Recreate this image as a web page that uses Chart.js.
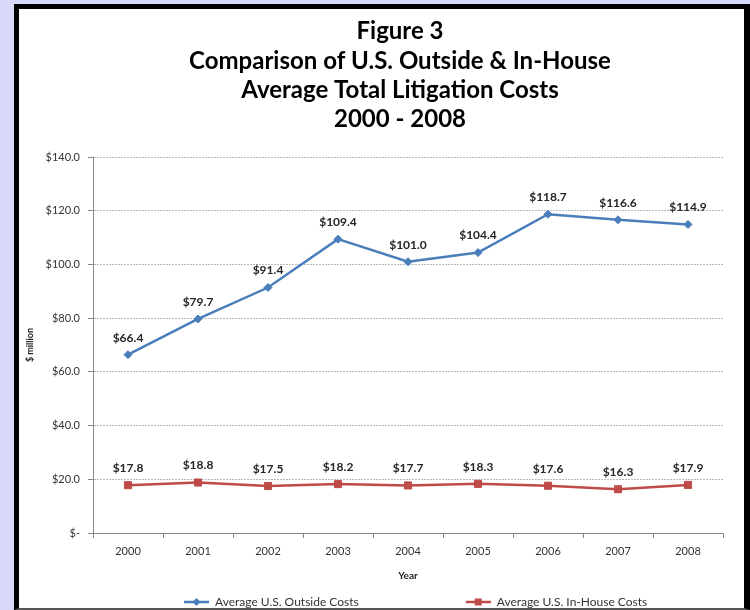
<!DOCTYPE html>
<html><head><meta charset="utf-8">
<script src="https://cdn.jsdelivr.net/npm/chart.js@4.4.1/dist/chart.umd.min.js"></script>
<style>
html,body{margin:0;padding:0;background:#d9d9fc;width:750px;height:610px;overflow:hidden;}
#panel{position:absolute;left:14px;top:4px;width:725px;height:599px;background:#fff;border-left:5px solid #000;border-top:5px solid #000;border-right:6px solid #000;border-bottom:2px solid #555;}
canvas{display:block;}
</style></head><body>
<div id="panel"><canvas id="c" width="725" height="599"></canvas></div>
<script>
const years = ['2000','2001','2002','2003','2004','2005','2006','2007','2008'];
const outsideCosts = [66.4, 79.7, 91.4, 109.4, 101.0, 104.4, 118.7, 116.6, 114.9];
const inHouseCosts = [17.8, 18.8, 17.5, 18.2, 17.7, 18.3, 17.6, 16.3, 17.9];
const yTickLabels = ['$-','$20.0','$40.0','$60.0','$80.0','$100.0','$120.0','$140.0'];
const seriesNames = ['Average U.S. Outside Costs','Average U.S. In-House Costs'];
const titleLines = ['Figure 3','Comparison of U.S. Outside & In-House','Average Total Litigation Costs','2000 - 2008'];
const yTitle = '$ million';
const xTitle = 'Year';

const BLUE = '#4a7ebb', RED = '#be4b48';
const FONT = 'Lato';
const ICON_W = 128;

function legendIcon(color, style) {
  const W = ICON_W, H = 12;
  const c = document.createElement('canvas'); c.width = W; c.height = H;
  const g = c.getContext('2d');
  g.strokeStyle = color; g.lineWidth = 2.5;
  g.beginPath(); g.moveTo(W - 25, H / 2); g.lineTo(W, H / 2); g.stroke();
  g.fillStyle = color;
  const cx = W - 12.5, cy = H / 2;
  if (style === 'diamond') {
    g.beginPath(); g.moveTo(cx, cy - 4); g.lineTo(cx + 4, cy); g.lineTo(cx, cy + 4); g.lineTo(cx - 4, cy); g.closePath(); g.fill();
  } else {
    g.fillRect(cx - 3.5, cy - 3.5, 7, 7);
  }
  return c;
}
const icons = [legendIcon(BLUE, 'diamond'), legendIcon(RED, 'square')];

const mctx = document.createElement('canvas').getContext('2d');
mctx.font = '11px ' + FONT;
const widestY = mctx.measureText('$140.0').width;

const dataLabels = {
  id: 'dataLabels',
  afterDatasetsDraw(chart) {
    const ctx = chart.ctx;
    ctx.save();
    ctx.font = 'bold 12px ' + FONT;
    ctx.fillStyle = '#262626';
    ctx.textAlign = 'center'; ctx.textBaseline = 'middle';
    chart.data.datasets.forEach((ds, i) => {
      chart.getDatasetMeta(i).data.forEach((pt, j) => {
        ctx.fillText('$' + ds.data[j].toFixed(1), pt.x, pt.y - 17);
      });
    });
    ctx.restore();
  }
};

new Chart(document.getElementById('c'), {
  type: 'line',
  data: {
    labels: years,
    datasets: [
      { label: seriesNames[0], data: outsideCosts, borderColor: BLUE, backgroundColor: BLUE, borderWidth: 2.5,
        pointStyle: 'rectRot', pointRadius: 4, pointBorderWidth: 1, pointBackgroundColor: BLUE, pointBorderColor: BLUE, tension: 0 },
      { label: seriesNames[1], data: inHouseCosts, borderColor: RED, backgroundColor: RED, borderWidth: 2.5,
        pointStyle: 'rect', pointRadius: 5, pointBorderWidth: 1, pointBackgroundColor: RED, pointBorderColor: RED, tension: 0 }
    ]
  },
  options: {
    responsive: false,
    devicePixelRatio: 1,
    animation: false,
    layout: { padding: { left: 58, right: 21, top: 0, bottom: 0 } },
    plugins: {
      title: {
        display: true, text: titleLines, color: '#000',
        font: { family: FONT, size: 24, weight: 'bold', lineHeight: '29.3px' },
        padding: { top: 8, bottom: 22.8 }
      },
      legend: {
        position: 'bottom', align: 'start', maxHeight: 16,
        labels: {
          usePointStyle: true, pointStyleWidth: ICON_W, padding: 4,
          color: '#333', font: { family: FONT, size: 12 },
          generateLabels(chart) {
            const items = Chart.defaults.plugins.legend.labels.generateLabels(chart);
            items.forEach((it, i) => { it.pointStyle = icons[i]; });
            return items;
          }
        }
      },
      tooltip: { enabled: false }
    },
    scales: {
      x: {
        type: 'category', offset: true,
        grid: { display: true, drawOnChartArea: false, drawTicks: true, tickLength: 5, tickColor: '#868686', offset: true },
        border: { color: '#868686', width: 1 },
        ticks: { color: '#333', font: { family: FONT, size: 11 }, padding: 7, maxRotation: 0 },
        title: { display: true, text: xTitle, color: '#222', font: { family: FONT, size: 10, weight: 'bold' }, padding: { top: 0, bottom: 10 } },
        afterFit(s) { s.height = 59; }
      },
      y: {
        min: 0, max: 140,
        grid: { color: '#b8b8b8', lineWidth: 1, drawTicks: true, tickLength: 5, tickColor: '#868686' },
        border: { color: '#868686', width: 1, dash: [2, 1] },
        ticks: { stepSize: 20, color: '#333', font: { family: FONT, size: 11 }, mirror: true, crossAlign: 'far',
          padding: -13 - widestY,
          callback(v, i) { return yTickLabels[i]; } },
        title: { display: true, text: yTitle, color: '#222', font: { family: FONT, size: 9, weight: 'bold' }, padding: { top: -52.4, bottom: 0 } },
        afterFit(s) { s.width = 16; }
      }
    }
  },
  plugins: [dataLabels]
});
</script>
</body></html>
